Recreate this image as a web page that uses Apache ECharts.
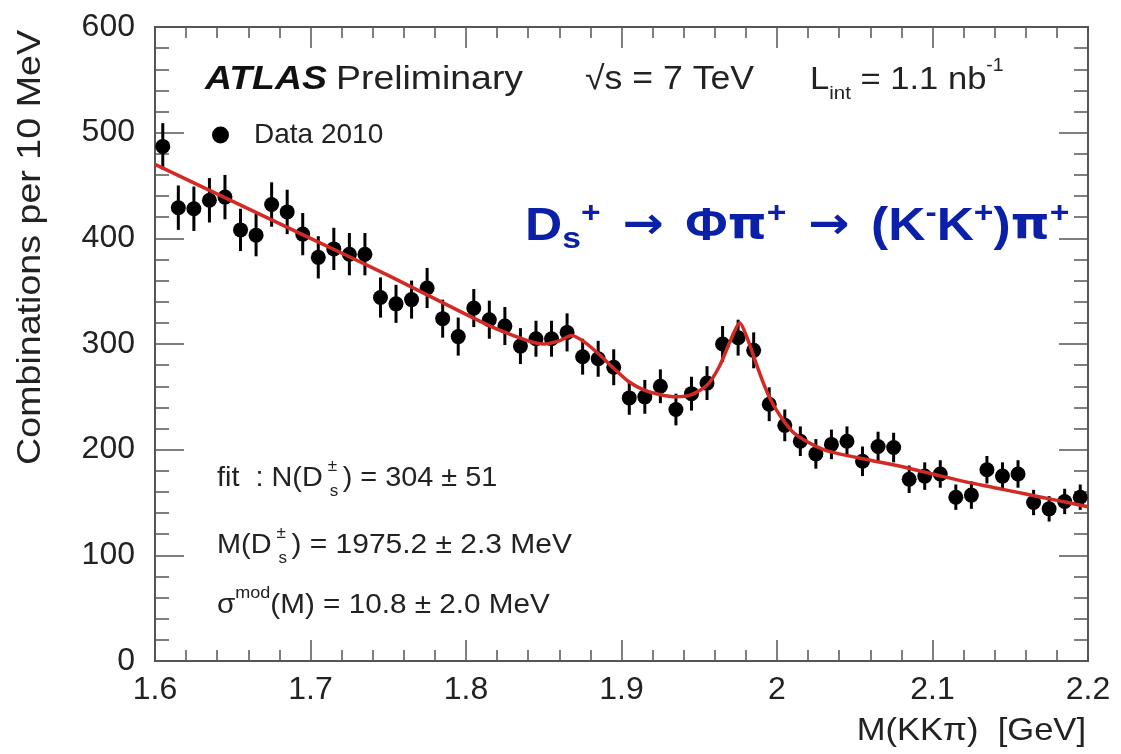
<!DOCTYPE html>
<html><head><meta charset="utf-8">
<script src="https://cdn.jsdelivr.net/npm/echarts@6/dist/echarts.min.js"></script>
<style>html,body{margin:0;padding:0;background:#fff}#c{width:1121px;height:754px}</style>
</head><body><div id="c"></div>
<script>
// ---- data ----
const massBins = [1.605,1.615,1.625,1.635,1.645,1.655,1.665,1.675,1.685,1.695,
  1.705,1.715,1.725,1.735,1.745,1.755,1.765,1.775,1.785,1.795,
  1.805,1.815,1.825,1.835,1.845,1.855,1.865,1.875,1.885,1.895,
  1.905,1.915,1.925,1.935,1.945,1.955,1.965,1.975,1.985,1.995,
  2.005,2.015,2.025,2.035,2.045,2.055,2.065,2.075,2.085,2.095,
  2.105,2.115,2.125,2.135,2.145,2.155,2.165,2.175,2.185,2.195];
const counts = [487,429,428,436,439,408,403,432,425,404,
  382,390,385,385,344,338,342,353,324,307,
  334,323,317,298,305,305,311,288,286,278,
  249,250,260,238,253,263,300,306,294,243,
  223,208,196,205,208,189,203,202,172,175,
  177,155,157,181,175,177,150,144,151,155];
const errors = [22,21,21,21,21,20,20,21,21,20,
  20,20,20,20,19,18,18,19,18,18,
  18,18,18,17,17,17,18,17,17,17,
  16,16,16,15,16,16,17,17,17,16,
  15,14,14,14,14,14,14,14,13,13,
  13,12,13,13,13,13,12,12,12,12];
const fitMass = [1.600,1.650,1.700,1.750,1.800,1.820,1.840,1.850,1.860,1.868,
  1.876,1.885,1.895,1.905,1.915,1.925,1.935,1.945,1.955,1.963,
  1.970,1.976,1.981,1.986,1.991,1.996,2.002,2.010,2.020,2.030,
  2.040,2.060,2.080,2.100,2.120,2.140,2.160,2.180,2.200];
const fitValues = [470,435,400,365,328,314,303,300,303,308,
  302,291,277,264,256,252,250,252,261,279,
  303,320,305,284,264,247,232,217,207,200,
  196,190,184,177,170,164,158,152,146];
const xTickLabels = ['1.6','1.7','1.8','1.9','2','2.1','2.2'];
const yTickLabels = ['0','100','200','300','400','500','600'];

// ---- chart ----
const FONT = '"Liberation Sans", Arial, Helvetica, sans-serif';
const TXT = '#222';
const AX = '#555';
const BLUE = '#0b20a8';
const ctx = document.createElement('canvas').getContext('2d');
function tw(text, font){ ctx.font = font; return ctx.measureText(text).width; }

function xAxisDef(pos, labels){
  return {type:'value', min:1.6, max:2.2, interval:0.1, position:pos,
    axisLine:{show:true, onZero:false, lineStyle:{color:AX, width:2}},
    axisTick:{show:true, inside:true, length:21, lineStyle:{color:AX, width:1.5}},
    minorTick:{show:true, splitNumber:5, length:11, lineStyle:{color:AX, width:1.5}},
    splitLine:{show:false},
    axisLabel:{show:labels, margin:13, fontSize:32, fontFamily:FONT, color:TXT,
      formatter: v => xTickLabels[Math.round((v-1.6)/0.1)]}};
}
function yAxisDef(pos, labels){
  return {type:'value', min:0, max:600, interval:100, position:pos,
    axisLine:{show:true, onZero:false, lineStyle:{color:AX, width:2}},
    axisTick:{show:true, inside:true, length:29, lineStyle:{color:AX, width:1.5}},
    minorTick:{show:true, splitNumber:5, length:14, lineStyle:{color:AX, width:1.5}},
    splitLine:{show:false},
    axisLabel:{show:labels, margin:20, fontSize:32, fontFamily:FONT, color:TXT,
      formatter: v => yTickLabels[Math.round(v/100)]}};
}

const SMALL = 28;
const fA = SMALL + 'px ' + FONT;
const row1A = 'fit  : N(D';
const row2A = 'M(D';
const SXs = 1.03;
const w1 = tw(row1A, fA) * SXs;
const w2 = tw(row2A, fA) * SXs;

const DJ = '"DejaVu Sans", ' + FONT;
const blueRich = {
  m:{fontSize:46, fontWeight:'bold', fontFamily:FONT, fill:BLUE, lineHeight:56},
  p:{fontSize:44, fontWeight:'bold', fontFamily:DJ, fill:BLUE, lineHeight:56},
  ar:{fontSize:44, fontWeight:'bold', fontFamily:DJ, fill:BLUE, lineHeight:56},
  g:{fontSize:70, fontFamily:FONT, fill:BLUE, lineHeight:56},
  sb:{fontSize:30, fontWeight:'bold', fontFamily:FONT, fill:BLUE, lineHeight:30, verticalAlign:'bottom'},
  sp:{fontSize:30, fontWeight:'bold', fontFamily:FONT, fill:BLUE, lineHeight:34, verticalAlign:'top'}
};

const graphic = [
  {type:'text', x:205, y:80, scaleX:1.1, style:{text:'ATLAS', font:'italic bold 34px '+FONT, fill:'#111', verticalAlign:'middle'}},
  {type:'text', x:336, y:80, scaleX:1.1, style:{text:'Preliminary', font:'34px '+FONT, fill:TXT, verticalAlign:'middle'}},
  {type:'text', x:585, y:80, scaleX:1.08, style:{text:'√s = 7 TeV', font:'33px '+FONT, fill:TXT, verticalAlign:'middle'}},
  {type:'text', x:810, y:80, scaleX:1.08, style:{
    text:'{a|L}{b|int}{a| = 1.1 nb}{c|-1}', verticalAlign:'middle',
    rich:{a:{fontSize:32, fontFamily:FONT, fill:TXT, lineHeight:46},
          b:{fontSize:19, fontFamily:FONT, fill:TXT, lineHeight:21, verticalAlign:'bottom'},
          c:{fontSize:18, fontFamily:FONT, fill:TXT, lineHeight:22, verticalAlign:'top'}}}},
  // blue decay label
  {type:'text', x:525, y:227, scaleX:1.12, style:{
    text:'{m|D}{sb|s}{sp|+}{g| }{ar|→}{g| }{m|Φ}{p|π}{sp|+}{g| }{ar|→}{g| }{m|(K}{sp|-}{m|K}{sp|+}{m|)}{p|π}{sp|+}', verticalAlign:'middle',
    rich: blueRich}},
  // fit results
  {type:'text', x:217, y:478, scaleX:SXs, style:{text:row1A, font:fA, fill:TXT, verticalAlign:'middle'}},
  {type:'text', x:217+w1+5, y:466, style:{text:'±', font:'17px '+FONT, fill:TXT, verticalAlign:'middle'}},
  {type:'text', x:217+w1+7, y:491, style:{text:'s', font:'17px '+FONT, fill:TXT, verticalAlign:'middle'}},
  {type:'text', x:217+w1+20, y:478, scaleX:SXs, style:{text:') = 304 ± 51', font:fA, fill:TXT, verticalAlign:'middle'}},
  {type:'text', x:217, y:545, scaleX:SXs, style:{text:row2A, font:fA, fill:TXT, verticalAlign:'middle'}},
  {type:'text', x:217+w2+5, y:533, style:{text:'±', font:'17px '+FONT, fill:TXT, verticalAlign:'middle'}},
  {type:'text', x:217+w2+7, y:558, style:{text:'s', font:'17px '+FONT, fill:TXT, verticalAlign:'middle'}},
  {type:'text', x:217+w2+20, y:545, scaleX:1.07, style:{text:') = 1975.2 ± 2.3 MeV', font:fA, fill:TXT, verticalAlign:'middle'}},
  {type:'text', x:217, y:605, scaleX:1.06, style:{
    text:'{a|σ}{b|mod}{a|(M) = 10.8 ± 2.0 MeV}', verticalAlign:'middle',
    rich:{a:{fontSize:28, fontFamily:FONT, fill:TXT, lineHeight:40},
          b:{fontSize:17, fontFamily:FONT, fill:TXT, lineHeight:18, verticalAlign:'top'}}}},
  // axis titles
  {type:'text', x:31, y:30, rotation:Math.PI/2, scaleX:1.14, style:{text:'Combinations per 10 MeV', font:'33px '+FONT, fill:TXT, align:'right', verticalAlign:'middle'}},
  {type:'text', x:1086, y:731, scaleX:1.08, style:{text:'M(KKπ)  [GeV]', font:'32px '+FONT, fill:TXT, align:'right', verticalAlign:'middle'}}
];

const chart = echarts.init(document.getElementById('c'));
chart.setOption({
  animation:false,
  backgroundColor:'#fff',
  grid:{left:155, right:33, top:27, bottom:93},
  xAxis:[xAxisDef('bottom', true), xAxisDef('top', false)],
  yAxis:[yAxisDef('left', true), yAxisDef('right', false)],
  legend:{data:['Data 2010'], left:207, top:116, icon:'circle', itemWidth:17, itemHeight:17,
    textStyle:{fontSize:28, fontFamily:FONT, color:TXT, padding:[0,0,0,20]}},
  graphic: graphic,
  series:[
    {type:'custom', name:'errors', xAxisIndex:0, yAxisIndex:0, z:3,
      data: massBins.map((m,i)=>[m, counts[i], errors[i]]),
      encode:{x:0, y:1},
      renderItem:(params, api)=>{
        const x = api.value(0), y = api.value(1), e = api.value(2);
        const p1 = api.coord([x, y - e]), p2 = api.coord([x, y + e]);
        return {type:'line', shape:{x1:p1[0], y1:p1[1], x2:p2[0], y2:p2[1]},
          style:{stroke:'#000', lineWidth:3}};
      }},
    {type:'scatter', name:'Data 2010', xAxisIndex:0, yAxisIndex:0, z:4,
      symbol:'circle', symbolSize:15, itemStyle:{color:'#000', opacity:1},
      data: massBins.map((m,i)=>[m, counts[i]])},
    {type:'line', name:'fit', xAxisIndex:0, yAxisIndex:0, z:5,
      showSymbol:false, smooth:0.25,
      lineStyle:{color:'#d42a25', width:3.5},
      data: fitMass.map((m,i)=>[m, fitValues[i]])}
  ]
});
</script></body></html>
